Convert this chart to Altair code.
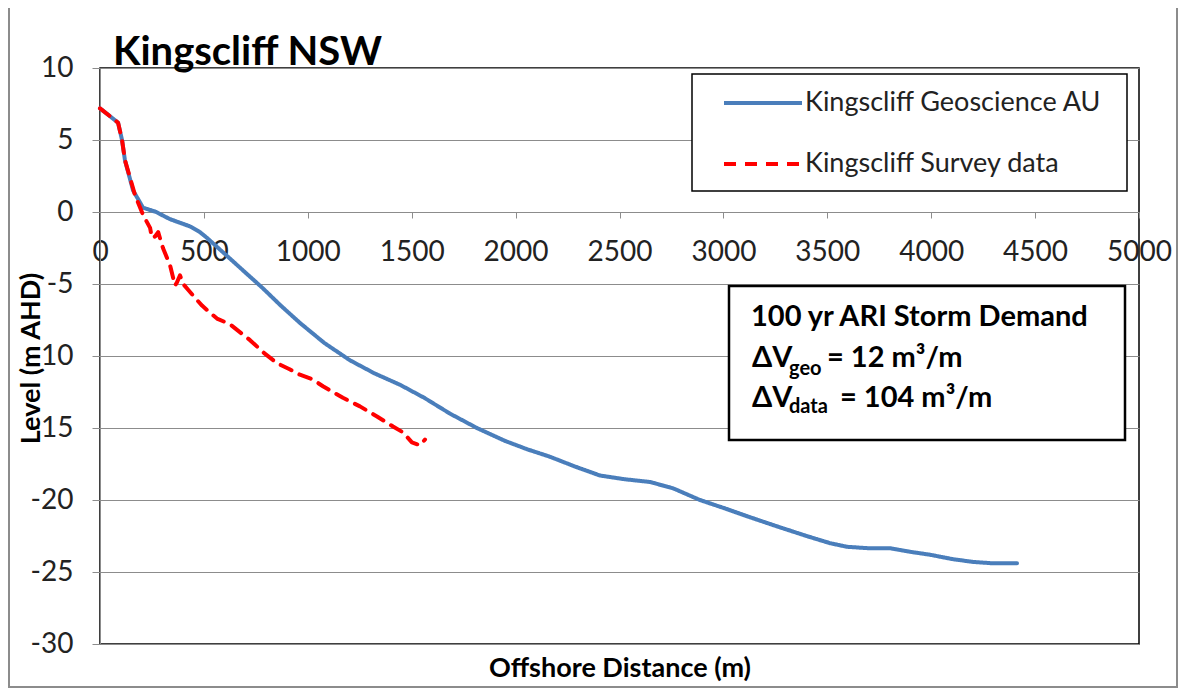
import altair as alt
import pandas as pd

# ---- data ----
geo_x = [0, 87, 106, 120, 159, 207, 270, 337, 433, 481, 515, 592, 707, 784, 870, 962, 1080, 1203,
         1320, 1444, 1560, 1684, 1814, 1950, 2060, 2166, 2290, 2406, 2520, 2647, 2760, 2887, 3010,
         3128, 3272, 3400, 3513, 3595, 3700, 3802, 3900, 3994, 4100, 4201, 4300, 4413]
geo_y = [7.2, 6.2, 5.0, 3.6, 1.5, 0.3, 0.0, -0.5, -1.0, -1.4, -1.8, -2.8, -4.3, -5.3, -6.5, -7.7,
         -9.1, -10.3, -11.2, -12.0, -12.9, -14.0, -15.0, -15.9, -16.5, -17.0, -17.7, -18.3, -18.55,
         -18.75, -19.2, -20.0, -20.6, -21.2, -21.9, -22.5, -23.0, -23.25, -23.35, -23.35, -23.6,
         -23.8, -24.1, -24.3, -24.4, -24.4]
survey_x = [0, 87, 106, 120, 168, 207, 241, 250, 265, 280, 303, 337, 361, 370, 385, 400, 424, 460,
            491, 530, 563, 626, 722, 790, 852, 910, 962, 1020, 1073, 1120, 1169, 1251, 1333, 1410,
            1458, 1501, 1540, 1564]
survey_y = [7.2, 6.2, 5.0, 3.6, 1.2, -0.2, -1.1, -1.8, -1.7, -1.4, -2.5, -3.7, -5.1, -4.9, -4.4,
            -5.0, -5.4, -6.0, -6.5, -7.0, -7.4, -7.8, -8.9, -9.8, -10.5, -10.9, -11.3, -11.6, -12.1,
            -12.5, -12.9, -13.5, -14.2, -14.9, -15.3, -16.0, -16.2, -15.8]
series_names = ["Kingscliff Geoscience AU", "Kingscliff Survey data"]
series_colors = ["#4a7ebb", "#ff0000"]
series_dash = [[1, 0], [12, 9]]
x_ticks = [0, 500, 1000, 1500, 2000, 2500, 3000, 3500, 4000, 4500, 5000]
y_ticks = [-30, -25, -20, -15, -10, -5, 0, 5, 10]

chart_title = "Kingscliff NSW"
x_title = "Offshore Distance (m)"
y_title = "Level (m AHD)"
note_head = "100 yr ARI Storm Demand"
note_geo = ["\u0394V", "geo", "= 12 m\u00b3/m"]
note_data = ["\u0394V", "data", "= 104 m\u00b3/m"]

df = pd.concat([
    pd.DataFrame({"x": geo_x, "y": geo_y, "series": series_names[0]}),
    pd.DataFrame({"x": survey_x, "y": survey_y, "series": series_names[1]}),
], ignore_index=True)

W, H = 1039, 576
FONT = "Lato"
one = pd.DataFrame({"k": [0]})


def box(x, x2, y, y2, stroke, sw, fill_op=1.0):
    return alt.Chart(one).mark_rect(fill="white", fillOpacity=fill_op, stroke=stroke,
                                    strokeWidth=sw).encode(
        x=alt.value(x), x2=alt.value(x2), y=alt.value(y), y2=alt.value(y2))


def txt(s, x, y, size, weight="bold"):
    return alt.Chart(one).mark_text(text=s, align="left", baseline="alphabetic", font=FONT,
                                    fontSize=size, fontWeight=weight, color="black").encode(
        x=alt.value(x), y=alt.value(y))


outer = box(-91, W + 38, -61, H + 43, "#8c8c8c", 2, 0.0)
legend_box = box(592, 1027, 6, 123, "black", 1.5)
note_box = box(629, 1025, 218, 372, "black", 2.5)

lines = alt.Chart(df).mark_line(strokeWidth=4, strokeCap="round", strokeJoin="round").encode(
    x=alt.X("x:Q", scale=alt.Scale(domain=[0, 5000], nice=False),
            axis=alt.Axis(values=x_ticks, title=x_title, offset=-432, grid=False,
                          domainColor="#8c8c8c", tickColor="#8c8c8c", tickSize=6,
                          labelFontSize=28, labelFont=FONT, labelColor="#222",
                          labelPadding=20, labelFlush=False, labelOverlap=False,
                          labelExpr="'' + datum.value",
                          titleFont=FONT, titleFontSize=27, titleFontWeight="bold",
                          titleColor="black", titleY=464, titleBaseline="alphabetic")),
    y=alt.Y("y:Q", scale=alt.Scale(domain=[-30, 10], nice=False, zero=False),
            axis=alt.Axis(values=y_ticks, title=y_title, grid=True, gridColor="#8c8c8c",
                          gridWidth=1, domainColor="#8c8c8c", tickColor="#8c8c8c", tickSize=8,
                          labelFontSize=28, labelFont=FONT, labelColor="#222", labelPadding=19,
                          labelExpr="'' + datum.value",
                          titleFont=FONT, titleFontSize=27, titleFontWeight="bold",
                          titleColor="black", titleX=-61, titleY=290,
                          titleBaseline="alphabetic")),
    color=alt.Color("series:N", scale=alt.Scale(domain=series_names, range=series_colors),
                    legend=alt.Legend(title=None)),
    strokeDash=alt.StrokeDash("series:N", scale=alt.Scale(domain=series_names, range=series_dash),
                              legend=alt.Legend(title=None)),
)

texts = [
    txt(chart_title, 13, -3, 40),
    txt(note_head, 651, 258, 29),
    txt(note_geo[0], 652, 299, 29), txt(note_geo[1], 689, 307, 20), txt(note_geo[2], 727, 299, 29),
    txt(note_data[0], 652, 339, 29), txt(note_data[1], 689, 345, 20), txt(note_data[2], 740, 339, 29),
]

chart = alt.layer(outer, legend_box, note_box, lines, *texts).properties(
    width=W, height=H,
    autosize="none",
    padding={"left": 92, "top": 60, "right": 40, "bottom": 44},
).configure(background="white").configure_view(stroke="black", strokeWidth=1.5).configure_legend(
    orient="none", legendX=622, legendY=20, padding=0, labelFont=FONT, labelFontSize=27,
    labelColor="#222", labelLimit=500, symbolSize=6084, symbolStrokeWidth=4, clipHeight=30,
    rowPadding=31, labelOffset=1, symbolType="stroke",
)

chart.save("out.html", embed_options={"renderer": "svg", "actions": False})
